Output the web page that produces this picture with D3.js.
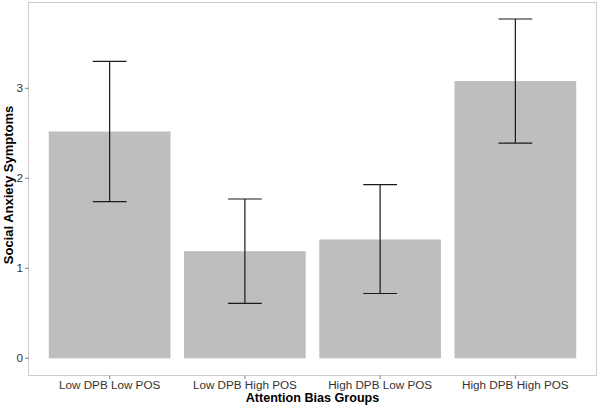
<!DOCTYPE html>
<html><head><meta charset="utf-8">
<script src="https://cdn.jsdelivr.net/npm/d3@7"></script>
<style>body{margin:0;background:#fff}svg{display:block;font-family:"Liberation Sans",Arial,sans-serif}</style>
</head><body><svg id="c" width="600" height="408"></svg>
<script>
const categories = ["Low DPB Low POS","Low DPB High POS","High DPB Low POS","High DPB High POS"];
const means = [2.52, 1.19, 1.32, 3.08];
const lower = [1.74, 0.61, 0.72, 2.39];
const upper = [3.30, 1.77, 1.93, 3.77];
const yTicks = [0,1,2,3];

const svg = d3.select("#c");
const L = 28.5, R = 596.5, T = 2.5, B = 375.5;
const y = d3.scaleLinear().domain([0,1]).range([358.3,268.3]);
const x = d3.scaleBand().domain(categories).range([L,R]).paddingInner(0.1).paddingOuter(0.15);
const unit = x.step();
const xc = c => x(c) + x.bandwidth()/2;

svg.append("rect").attr("x",L).attr("y",T).attr("width",R-L).attr("height",B-T)
  .attr("fill","#fff").attr("stroke","#cccccc").attr("stroke-width",1);

svg.selectAll(".bar").data(means).enter().append("rect")
  .attr("x",(d,i)=>x(categories[i])).attr("width",x.bandwidth())
  .attr("y",d=>y(d)).attr("height",d=>y(0)-y(d)).attr("fill","#bebebe");

const eb = svg.append("g").attr("stroke","#1a1a1a").attr("stroke-width",1.2);
categories.forEach((c,i)=>{
  eb.append("line").attr("x1",xc(c)).attr("x2",xc(c)).attr("y1",y(lower[i])).attr("y2",y(upper[i]));
  [lower[i],upper[i]].forEach(v=>eb.append("line").attr("x1",xc(c)-unit*0.125).attr("x2",xc(c)+unit*0.125).attr("y1",y(v)).attr("y2",y(v)));
});

yTicks.forEach(t=>{
  svg.append("line").attr("x1",L-3.5).attr("x2",L).attr("y1",y(t)).attr("y2",y(t)).attr("stroke","#7f7f7f");
  svg.append("text").attr("x",L-5.5).attr("y",y(t)).attr("dy","0.35em").attr("text-anchor","end")
    .attr("font-size",11.7).attr("fill","#333").text(t);
});
categories.forEach((c,i)=>{
  svg.append("line").attr("x1",xc(c)).attr("x2",xc(c)).attr("y1",B).attr("y2",B+3.5).attr("stroke","#7f7f7f");
  svg.append("text").attr("x",xc(c)).attr("y",389.3).attr("text-anchor","middle")
    .attr("font-size",11.7).attr("fill","#333").text(c);
});
svg.append("text").attr("x",(L+R)/2).attr("y",402).attr("text-anchor","middle")
  .attr("font-size",12.6).attr("font-weight","bold").attr("fill","#000").text("Attention Bias Groups");
svg.append("text").attr("transform",`translate(12.5,185) rotate(-90)`).attr("text-anchor","middle")
  .attr("font-size",13).attr("font-weight","bold").attr("fill","#000").text("Social Anxiety Symptoms");
</script></body></html>
